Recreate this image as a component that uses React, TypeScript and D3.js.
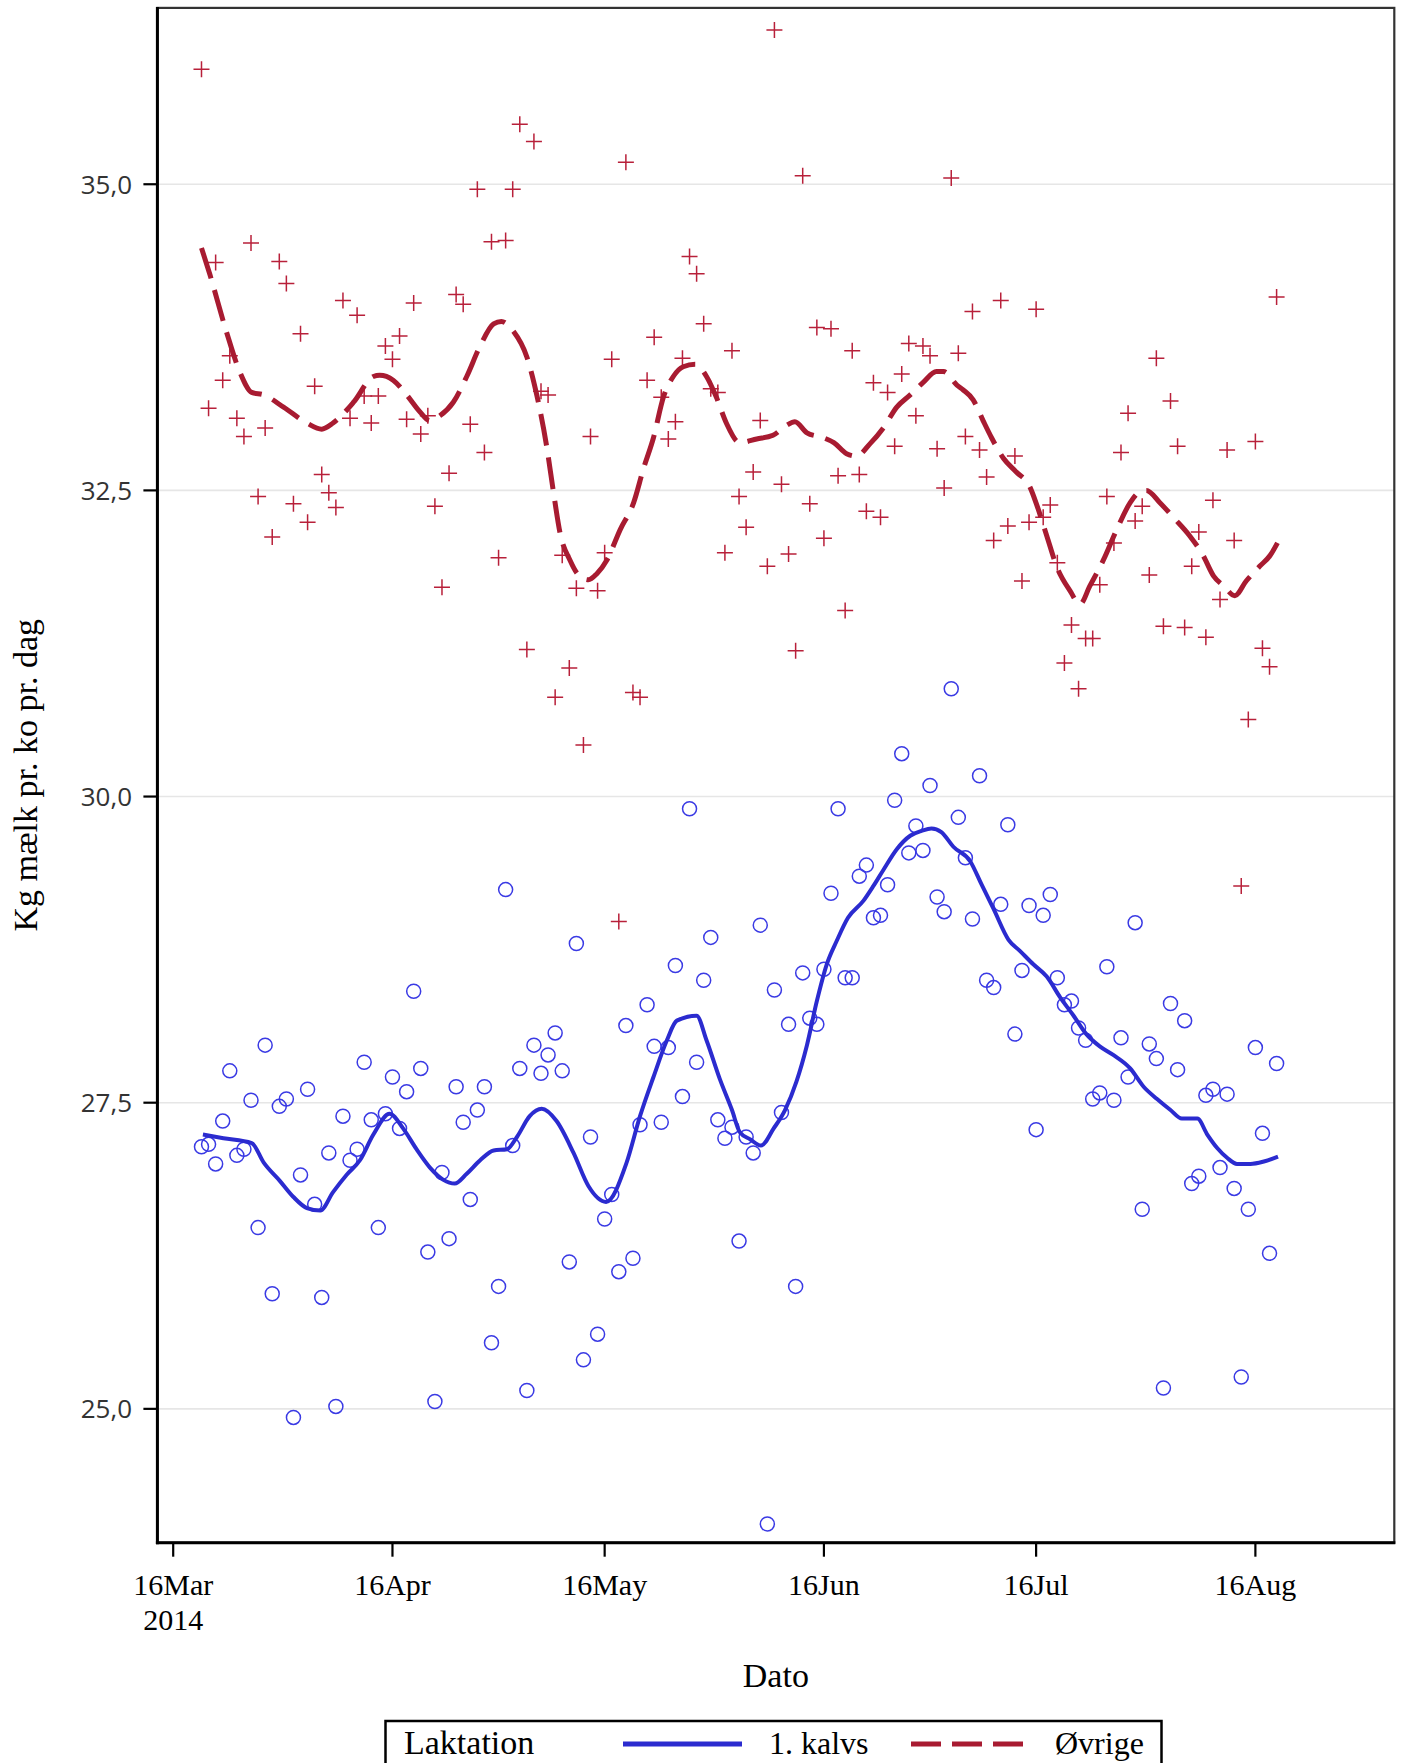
import React from "react";
import * as d3 from "d3";

// ---- Data ----
const firstDate = "2014-03-20"; // daily observations, one per day
const redValues = [
  35.94, 33.17, 34.36, 33.40, 33.60, 33.09, 32.94, 34.52, 32.45, 33.01,
  32.12, 34.37, 34.19, 32.39, 33.78, 32.24, 33.35, 32.63, 32.48, 32.36,
  34.05, 33.09, 33.93, 33.27, 33.05, 33.27, 33.68, 33.57, 33.76, 33.08,
  34.03, 32.96, 33.11, 32.37, 31.71, 32.64, 34.10, 34.02, 33.04, 34.96,
  32.81, 34.53, 31.95, 34.54, 34.96, 35.49, 31.20, 35.35, 33.31, 33.28,
  30.81, 31.97, 31.05, 31.70, 30.42, 32.94, 31.68, 31.99, 33.57, 28.98,
  35.18, 30.85, 30.81, 33.40, 33.75, 33.26, 32.92, 33.06, 33.58, 34.41,
  34.27, 33.86, 33.33, 33.30, 31.99, 33.64, 32.45, 32.20, 32.65, 33.07,
  31.88, 36.26, 32.55, 31.98, 31.19, 35.07, 32.39, 33.83, 32.11, 33.82,
  32.62, 31.52, 33.64, 32.63, 32.33, 33.38, 32.28, 33.30, 32.86, 33.45,
  33.70, 33.11, 33.68, 33.60, 32.84, 32.52, 35.05, 33.62, 32.94, 33.96,
  32.83, 32.61, 32.09, 34.05, 32.21, 32.78, 31.76, 32.24, 33.98, 32.28,
  32.38, 31.91, 31.09, 31.40, 30.88, 31.29, 31.29, 31.73, 32.45, 32.07,
  32.81, 33.13, 32.25, 32.37, 31.81, 33.58, 31.39, 33.23, 32.86, 31.38,
  31.88, 32.16, 31.30, 32.42, 31.61, 32.83, 32.09, 29.27, 30.63, 32.90,
  31.21, 31.06, 34.08,
];
const blueValues = [
  27.14, 27.16, 27.00, 27.35, 27.76, 27.07, 27.12, 27.52, 26.48, 27.97,
  25.94, 27.47, 27.53, 24.93, 26.91, 27.61, 26.67, 25.91, 27.09, 25.02,
  27.39, 27.03, 27.12, 27.83, 27.36, 26.48, 27.41, 27.71, 27.29, 27.59,
  28.41, 27.78, 26.28, 25.06, 26.93, 26.39, 27.63, 27.34, 26.71, 27.44,
  27.63, 25.54, 26.00, 29.24, 27.15, 27.78, 25.15, 27.97, 27.74, 27.89,
  28.07, 27.76, 26.20, 28.80, 25.40, 27.22, 25.61, 26.55, 26.75, 26.12,
  28.13, 26.23, 27.32, 28.30, 27.96, 27.34, 27.95, 28.62, 27.55, 29.90,
  27.83, 28.50, 28.85, 27.36, 27.21, 27.30, 26.37, 27.22, 27.09, 28.95,
  24.06, 28.42, 27.42, 28.14, 26.00, 28.56, 28.19, 28.14, 28.59, 29.21,
  29.90, 28.52, 28.52, 29.35, 29.44, 29.01, 29.03, 29.28, 29.97, 30.35,
  29.54, 29.76, 29.56, 30.09, 29.18, 29.06, 30.88, 29.83, 29.50, 29.00,
  30.17, 28.50, 28.44, 29.12, 29.77, 28.06, 28.58, 29.11, 27.28, 29.03,
  29.20, 28.52, 28.30, 28.33, 28.11, 28.01, 27.53, 27.58, 28.61, 27.52,
  28.03, 27.71, 28.97, 26.63, 27.98, 27.86, 25.17, 28.31, 27.77, 28.17,
  26.84, 26.90, 27.56, 27.61, 26.97, 27.57, 26.80, 25.26, 26.63, 27.95,
  27.25, 26.27, 27.82,
];

// smoothed curves: day offset from 16 Mar 2014, value
const redLineDay = [
  4.0, 5.2, 7.5, 9.4, 11.1, 12.8, 15.6, 18.9, 21.0, 22.6, 25.5, 28.3, 29.2, 31.1, 33.0,
  34.9, 36.3, 37.7, 39.6, 41.5, 43.4, 45.3, 46.4, 48.1, 50.0, 51.4, 52.8, 53.7, 54.7,
  56.1, 57.3, 58.7, 59.9, 61.3, 63.2, 65.1, 66.5, 67.9, 69.3, 70.7, 72.1, 73.8, 75.4,
  76.8, 78.2, 80.1, 82.5, 84.8, 86.7, 87.9, 89.6, 91.9, 93.4, 95.2, 96.6, 98.5, 100.4,
  102.3, 104.2, 106.0, 107.9, 108.9, 110.8, 111.7, 113.1, 114.5, 115.7, 117.4, 119.2,
  121.1, 122.1, 123.5, 124.9, 126.8, 128.2, 129.6, 131.5, 133.4, 135.3, 136.7, 137.6,
  139.5, 141.4, 143.7, 145.6, 147.1, 148.5, 150.1, 151.7, 153.6, 155.1, 156.2,
];
const redLineVal = [
  34.48, 34.26, 33.80, 33.47, 33.30, 33.28, 33.18, 33.05, 33.00, 33.05, 33.22, 33.43, 33.44, 33.40, 33.28,
  33.14, 33.07, 33.11, 33.22, 33.43, 33.68, 33.86, 33.88, 33.80, 33.59, 33.28, 32.86, 32.51, 32.15,
  31.93, 31.81, 31.77, 31.82, 31.93, 32.18, 32.40, 32.68, 32.93, 33.26, 33.43, 33.51, 33.53, 33.43,
  33.26, 33.05, 32.89, 32.92, 32.95, 33.03, 33.06, 32.97, 32.93, 32.89, 32.80, 32.78, 32.88, 33.01,
  33.18, 33.28, 33.38, 33.47, 33.47, 33.36, 33.32, 33.24, 33.07, 32.93, 32.76, 32.65,
  32.53, 32.38, 32.13, 31.88, 31.68, 31.57, 31.72, 31.93, 32.18, 32.40, 32.49, 32.50,
  32.40, 32.28, 32.13, 31.97, 31.80, 31.72, 31.64, 31.76, 31.88, 31.97, 32.08,
];
const blueLineDay = [
  4.2, 7.1, 11.1, 12.8, 15.1, 17.0, 18.9, 20.8, 22.6, 24.5, 26.4, 28.3, 30.6, 32.5, 34.4,
  36.3, 38.2, 39.8, 41.5, 43.4, 45.3, 47.2, 48.6, 50.4, 52.1, 54.2, 56.6, 58.7, 61.2,
  64.1, 66.0, 67.9, 69.8, 71.2, 74.0, 75.4, 77.3, 79.0, 80.1, 81.6, 83.1, 84.9, 86.5,
  88.1, 89.6, 91.0, 92.4, 93.8, 95.4, 97.6, 99.0, 100.4, 102.3, 104.2, 105.8, 107.2,
  108.6, 110.3, 112.7, 114.3, 116.0, 118.1, 119.7, 121.6, 123.5, 125.4, 127.3, 129.1,
  131.0, 132.9, 135.3, 137.2, 139.1, 141.0, 142.6, 144.8, 146.2, 147.6, 149.0, 150.4,
  152.3, 154.2, 156.2,
];
const blueLineVal = [
  27.24, 27.21, 27.17, 27.01, 26.86, 26.73, 26.64, 26.62, 26.77, 26.91, 27.03, 27.24, 27.41, 27.29, 27.12,
  26.97, 26.87, 26.84, 26.92, 27.03, 27.11, 27.12, 27.22, 27.39, 27.45, 27.35, 27.09, 26.82, 26.69,
  27.01, 27.39, 27.71, 28.01, 28.17, 28.21, 28.01, 27.69, 27.44, 27.26, 27.20, 27.15, 27.29, 27.44,
  27.67, 27.97, 28.33, 28.63, 28.82, 29.01, 29.15, 29.27, 29.40, 29.57, 29.68, 29.72, 29.74,
  29.71, 29.59, 29.47, 29.28, 29.08, 28.83, 28.74, 28.63, 28.53, 28.36, 28.21, 28.06,
  27.96, 27.89, 27.78, 27.63, 27.53, 27.44, 27.37, 27.37, 27.24, 27.13, 27.05, 27.00,
  27.00, 27.02, 27.06,
];

const yTicks = [25.0, 27.5, 30.0, 32.5, 35.0];
const xTickDates = ["2014-03-16", "2014-04-16", "2014-05-16", "2014-06-16", "2014-07-16", "2014-08-16"];
const xTickLabels = ["16Mar", "16Apr", "16May", "16Jun", "16Jul", "16Aug"];

// ---- Layout ----
const W = 1401;
const H = 1763;
const L = 157.4, R = 1394.3, T = 7.9, B = 1542.7;
const DAY = 86400000;
const REF = Date.UTC(2014, 2, 16);
const parse = (s: string) => {
  const [y, m, d] = s.split("-").map(Number);
  return new Date(Date.UTC(y, m - 1, d));
};

const BLUE_LINE = "#2B2BCF";
const BLUE_MARK = "#3A3AE4";
const RED_LINE = "#A81B31";
const RED_MARK = "#B8203A";

export default function App() {
  const x = d3
    .scaleUtc()
    .domain([new Date(REF - 2.234 * DAY), new Date(REF + 172.64 * DAY)])
    .range([L, R]);
  const y = d3.scaleLinear().domain([23.907, 36.44]).range([B, T]);
  const start = parse(firstDate).getTime();
  const dateAt = (i: number) => new Date(start + i * DAY);
  const dayDate = (d: number) => new Date(REF + d * DAY);

  const line = d3
    .line<[number, number]>()
    .x((d) => x(dayDate(d[0])))
    .y((d) => y(d[1]))
    .curve(d3.curveMonotoneX);

  const redPath = line(redLineDay.map((d, i) => [d, redLineVal[i]]) as [number, number][]) || "";
  const bluePath = line(blueLineDay.map((d, i) => [d, blueLineVal[i]]) as [number, number][]) || "";

  const serif = "'Liberation Serif', 'Times New Roman', serif";
  const sans = "'Open Sans', 'Noto Sans', sans-serif";

  return (
    <div style={{ position: "absolute", left: 0, top: 0 }}>
      <svg width={W} height={H} style={{ display: "block", background: "#fff" }}>
        <rect x={0} y={0} width={W} height={H} fill="#fff" />
        {/* grid */}
        {yTicks.map((t) => (
          <line key={"g" + t} x1={L} x2={R} y1={y(t)} y2={y(t)} stroke="#e6e6e6" strokeWidth={1.6} />
        ))}
        {/* frame */}
        <rect x={L} y={T} width={R - L} height={B - T} fill="none" stroke="#333" strokeWidth={2.2} />
        <line x1={L} x2={L} y1={T - 1} y2={B + 1.5} stroke="#000" strokeWidth={3} />
        <line x1={L - 1.5} x2={R + 1} y1={B} y2={B} stroke="#000" strokeWidth={3} />

        {/* y ticks */}
        {yTicks.map((t) => (
          <g key={"y" + t}>
            <line x1={L - 14} x2={L} y1={y(t)} y2={y(t)} stroke="#000" strokeWidth={2.2} />
            <text x={132} y={y(t) + 9.5} textAnchor="end" fontFamily={sans} fontSize={26} fill="#333">
              {t.toFixed(1).replace(".", ",")}
            </text>
          </g>
        ))}
        {/* x ticks */}
        {xTickDates.map((s, i) => {
          const xx = x(parse(s));
          return (
            <g key={s}>
              <line x1={xx} x2={xx} y1={B} y2={B + 14} stroke="#000" strokeWidth={2.2} />
              <text x={xx} y={1595} textAnchor="middle" fontFamily={serif} fontSize={30} fill="#000">
                {xTickLabels[i]}
              </text>
              {i === 0 && (
                <text x={xx} y={1630} textAnchor="middle" fontFamily={serif} fontSize={30} fill="#000">
                  2014
                </text>
              )}
            </g>
          );
        })}

        {/* axis titles */}
        <text x={(L + R) / 2} y={1687} textAnchor="middle" fontFamily={serif} fontSize={34} fill="#000">
          Dato
        </text>
        <text
          transform={`translate(37, ${(T + B) / 2}) rotate(-90)`}
          textAnchor="middle"
          fontFamily={serif}
          fontSize={34}
          fill="#000"
        >
          Kg mælk pr. ko pr. dag
        </text>

        {/* markers */}
        {redValues.map((v, i) => {
          const cx = x(dateAt(i));
          const cy = y(v);
          return (
            <path
              key={"r" + i}
              d={`M${cx - 8},${cy}H${cx + 8}M${cx},${cy - 8}V${cy + 8}`}
              stroke={RED_MARK}
              strokeWidth={1.5}
              fill="none"
            />
          );
        })}
        {blueValues.map((v, i) => (
          <circle key={"b" + i} cx={x(dateAt(i))} cy={y(v)} r={7} fill="none" stroke={BLUE_MARK} strokeWidth={1.5} />
        ))}

        {/* smooth lines */}
        <path d={redPath} fill="none" stroke={RED_LINE} strokeWidth={5} strokeDasharray="32 12" />
        <path d={bluePath} fill="none" stroke={BLUE_LINE} strokeWidth={4} strokeLinejoin="round" />

        {/* legend */}
        <rect x={385.5} y={1721} width={776} height={80} fill="none" stroke="#000" strokeWidth={2.5} />
        <text x={404} y={1754} fontFamily={serif} fontSize={34} fill="#000">
          Laktation
        </text>
        <line x1={623} x2={742} y1={1744} y2={1744} stroke={BLUE_LINE} strokeWidth={5} />
        <text x={769} y={1754} fontFamily={serif} fontSize={32} fill="#000">
          1. kalvs
        </text>
        <line x1={911} x2={1023} y1={1744} y2={1744} stroke={RED_LINE} strokeWidth={5} strokeDasharray="30 11" />
        <text x={1055} y={1754} fontFamily={serif} fontSize={32} fill="#000">
          Øvrige
        </text>
      </svg>
    </div>
  );
}
